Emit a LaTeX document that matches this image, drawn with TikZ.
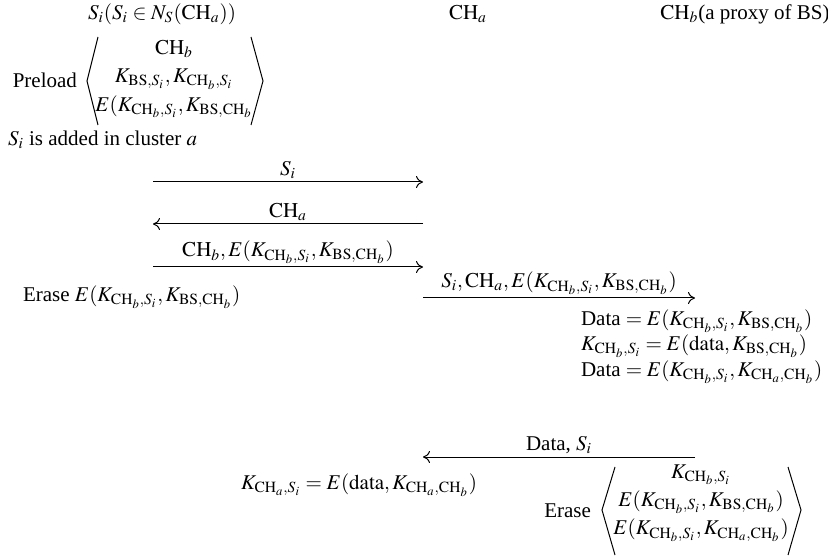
\documentclass[tikz,border=0pt]{standalone}
\usepackage{amsmath,amssymb}
\usepackage{mathptmx}
\usepackage{fontspec}
\setmainfont{Liberation Serif}
\usetikzlibrary{arrows.meta}
\newcommand{\CH}[1]{\mathrm{CH}_{#1}}
\newcommand{\BS}{\mathrm{BS}}

\begin{document}
\begin{tikzpicture}[
  x=0.5pt, y=-0.5pt,
  every node/.style={font=\fontsize{10.5}{12.6}\selectfont},
  msg/.style={->, line width=0.5pt},
  lbl/.style={above, inner sep=1.5pt},
  keyset/.style={align=center, font=\fontsize{10.5}{14.2}\selectfont},
  brk/.style={line width=0.5pt},
  >={To[length=3.5pt,width=6pt]}
]
\useasboundingbox (0,0) rectangle (828,560);
% Heads of the three parties
\node (hS) at (162,14) {$S_i(S_i\in N_S(\CH{a}))$};
\node (hA) at (468,14) {$\CH{a}$};
\node (hB) at (745,14) {$\CH{b}$(a proxy of BS)};

% Preload and join
\node[anchor=east] (pre) at (84,80) {Preload};
\node[keyset] (preC) at (174,79) {$\CH{b}$\\
  $K_{\BS,S_i},K_{\CH{b},S_i}$\\
  $E(K_{\CH{b},S_i},K_{\BS,\CH{b}}$};
\draw[brk] (98,37) -- (87,81) -- (98,125);
\draw[brk] (251,37) -- (263,81) -- (251,125);
\node[anchor=west] (add) at (1,140) {$S_i$ is added in cluster $a$};

% Messages between S_i and CH_a
\coordinate (s1) at (153,182); \coordinate (a1) at (423,182);
\coordinate (s2) at (153,224); \coordinate (a2) at (423,224);
\coordinate (s3) at (153,267); \coordinate (a3) at (423,267);
\draw[msg] (s1) -- node[lbl] {$S_i$} (a1);
\draw[msg] (a2) -- node[lbl] {$\CH{a}$} (s2);
\draw[msg] (s3) -- node[lbl] {$\CH{b},E(K_{\CH{b},S_i},K_{\BS,\CH{b}})$} (a3);
\node[anchor=west] (era1) at (16,297) {Erase $E(K_{\CH{b},S_i},K_{\BS,\CH{b}})$};

% CH_a forwards to CH_b
\coordinate (a4) at (423,298); \coordinate (b4) at (695,298);
\draw[msg] (a4) -- node[lbl] {$S_i,\CH{a},E(K_{\CH{b},S_i},K_{\BS,\CH{b}})$} (b4);
\node[anchor=west] (d1) at (574,321) {Data $= E(K_{\CH{b},S_i},K_{\BS,\CH{b}})$};
\node[anchor=west] (d2) at (574,346) {$K_{\CH{b},S_i} = E(\mathrm{data},K_{\BS,\CH{b}})$};
\node[anchor=west] (d3) at (574,372) {Data $= E(K_{\CH{b},S_i},K_{\CH{a},\CH{b}})$};

% CH_b answers CH_a
\coordinate (b5) at (695,457); \coordinate (a5) at (423,457);
\draw[msg] (b5) -- node[lbl] {Data, $S_i$} (a5);
\node[anchor=west] (upd) at (234,485) {$K_{\CH{a},S_i} = E(\mathrm{data},K_{\CH{a},\CH{b}})$};
\node[anchor=east] (era2) at (598,511) {Erase};
\node[keyset] (era2C) at (701,503) {$K_{\CH{b},S_i}$\\
  $E(K_{\CH{b},S_i},K_{\BS,\CH{b}})$\\
  $E(K_{\CH{b},S_i},K_{\CH{a},\CH{b}})$};
\draw[brk] (615,467) -- (602,510) -- (615,555);
\draw[brk] (788,467) -- (801,510) -- (788,555);
\end{tikzpicture}
\end{document}
